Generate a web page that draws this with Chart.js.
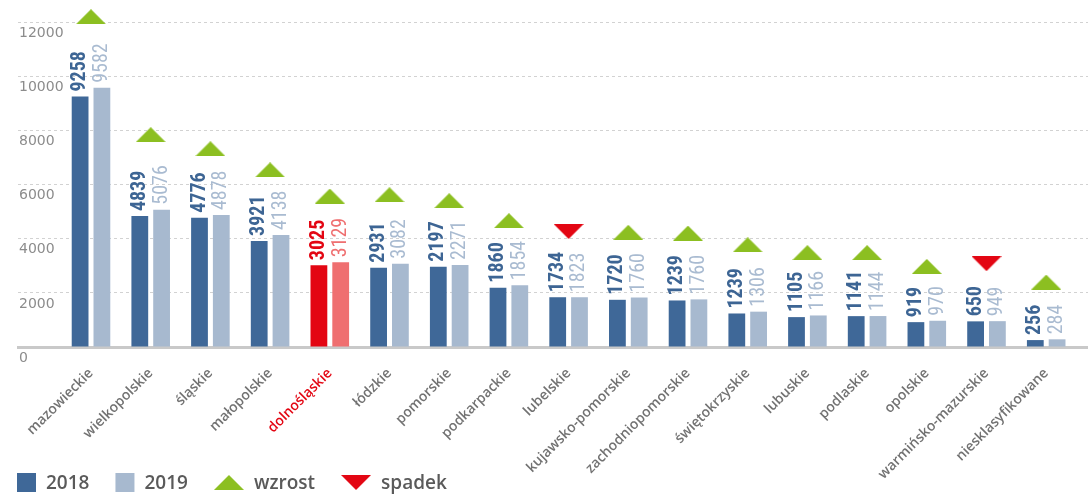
<!DOCTYPE html>
<html lang="pl">
<head>
<meta charset="utf-8">
<title>Województwa 2018 / 2019</title>
<script src="https://cdn.jsdelivr.net/npm/chart.js@4/dist/chart.umd.min.js"></script>
<style>
  html, body { margin: 0; padding: 0; background: #ffffff; }
  #wrap { width: 1088px; height: 494px; position: relative; }
</style>
</head>
<body>
<div id="wrap"><canvas id="c" width="1088" height="494"></canvas></div>
<script>
// ---- data ----
const CATEGORIES = ['mazowieckie','wielkopolskie','śląskie','małopolskie','dolnośląskie','łódzkie','pomorskie','podkarpackie','lubelskie','kujawsko-pomorskie','zachodniopomorskie','świętokrzyskie','lubuskie','podlaskie','opolskie','warmińsko-mazurskie','niesklasyfikowane'];
const HIGHLIGHT = 'dolnośląskie';
// bar heights as drawn in the picture
const VALUES_2018 = [9258, 4839, 4776, 3921, 3025, 2931, 2970, 2195, 1840, 1745, 1720, 1239, 1105, 1141, 919, 948, 256];
const VALUES_2019 = [9582, 5076, 4878, 4138, 3129, 3082, 3030, 2280, 1840, 1830, 1760, 1306, 1166, 1144, 970, 955, 284];
// numbers printed above the bars
const LABELS_2018 = ['9258','4839','4776','3921','3025','2931','2197','1860','1734','1720','1239','1239','1105','1141','919','650','256'];
const LABELS_2019 = ['9582','5076','4878','4138','3129','3082','2271','1854','1823','1760','1760','1306','1166','1144','970','949','284'];
// trend marker: direction and height (axis units)
const TREND = ['up','up','up','up','up','up','up','up','down','up','up','up','up','up','up','down','up'];
const MARKER_Y = [12210, 7850, 7330, 6550, 5580, 5630, 5410, 4670, 4270, 4240, 4210, 3780, 3490, 3490, 2980, 3080, 2400];
const SERIES_NAMES = ['2018', '2019'];
const TREND_NAMES = { up: 'wzrost', down: 'spadek' };
const Y_TICKS = [0, 2000, 4000, 6000, 8000, 10000, 12000];

// ---- styles / layout constants ----
const C2018 = '#3f6898', C2019 = '#a7b9cf';
const CRED = '#e30613', CRED_LIGHT = '#ef6f70';
const CLAB2018 = '#3d6594', CLAB2019 = '#a9bbd1';
const CGREEN = '#8cbf21';
const GRAY_TXT = '#727272';
const FIRST_CENTER_PX = 91;    // pixel centre of first category group
const CATEGORY_PX = 59.7;      // pixel distance between groups
const PX_PER_UNIT = 0.02705;   // vertical pixels per value unit

function triangleImage(dir, color) {
  const w = 30, h = 15;
  const cv = document.createElement('canvas');
  cv.width = w; cv.height = h;
  const g = cv.getContext('2d');
  g.fillStyle = color;
  g.beginPath();
  if (dir === 'up') { g.moveTo(0, h); g.lineTo(w / 2, 0); g.lineTo(w, h); }
  else { g.moveTo(0, 0); g.lineTo(w, 0); g.lineTo(w / 2, h); }
  g.closePath();
  g.fill();
  return cv;
}
const TRI = { up: triangleImage('up', CGREEN), down: triangleImage('down', CRED) };

const isHi = i => CATEGORIES[i] === HIGHLIGHT;

const valueLabels = {
  id: 'valueLabels',
  afterDatasetsDraw(chart) {
    const ctx = chart.ctx;
    [[0, LABELS_2018, true], [1, LABELS_2019, false]].forEach(([d, labels, bold]) => {
      const meta = chart.getDatasetMeta(d);
      meta.data.forEach((bar, i) => {
        ctx.save();
        ctx.translate(bar.x, bar.y - 5);
        ctx.rotate(-Math.PI / 2);
        ctx.font = (bold ? 'bold ' : '') + "20px 'Liberation Sans Narrow', 'Roboto Condensed', 'Open Sans', sans-serif";
        ctx.fillStyle = isHi(i) ? (bold ? CRED : CRED_LIGHT) : (bold ? CLAB2018 : CLAB2019);
        ctx.textAlign = 'left';
        ctx.textBaseline = 'middle';
        ctx.fillText(labels[i], 0, 0);
        ctx.restore();
      });
    });
  }
};

const bottomLegend = {
  id: 'bottomLegend',
  afterDraw(chart) {
    const ctx = chart.ctx;
    const cy = 482.5;
    let x = 17;
    ctx.save();
    ctx.font = "600 19px 'Open Sans', sans-serif";
    ctx.textBaseline = 'middle';
    const items = [
      { type: 'box', color: C2018, text: SERIES_NAMES[0] },
      { type: 'box', color: C2019, text: SERIES_NAMES[1] },
      { type: 'img', img: TRI.up, text: TREND_NAMES.up },
      { type: 'img', img: TRI.down, text: TREND_NAMES.down }
    ];
    items.forEach(it => {
      if (it.type === 'box') {
        ctx.fillStyle = it.color;
        ctx.fillRect(x, cy - 9.5, 19, 19);
        x += 19 + 10;
      } else {
        ctx.drawImage(it.img, x, cy - 7.5);
        x += 30 + 10;
      }
      ctx.fillStyle = '#5a5a5a';
      ctx.fillText(it.text, x, cy + 1);
      x += ctx.measureText(it.text).width + 26;
    });
    ctx.restore();
  }
};

const ctx = document.getElementById('c').getContext('2d');
const chart = new Chart(ctx, {
  data: {
    datasets: [
      {
        type: 'bar', label: SERIES_NAMES[0],
        data: VALUES_2018.map((v, i) => ({ x: i, y: v })),
        backgroundColor: CATEGORIES.map((c, i) => isHi(i) ? CRED : C2018),
        categoryPercentage: 0.73, barPercentage: 0.77, order: 2
      },
      {
        type: 'bar', label: SERIES_NAMES[1],
        data: VALUES_2019.map((v, i) => ({ x: i, y: v })),
        backgroundColor: CATEGORIES.map((c, i) => isHi(i) ? CRED_LIGHT : C2019),
        categoryPercentage: 0.73, barPercentage: 0.77, order: 2
      },
      {
        type: 'scatter', label: 'trend',
        data: MARKER_Y.map((v, i) => ({ x: i, y: v })),
        pointStyle: TREND.map(t => TRI[t]),
        pointRadius: 10, showLine: false, clip: false, order: 1
      }
    ]
  },
  options: {
    responsive: false,
    devicePixelRatio: 1,
    animation: false,
    layout: { autoPadding: false, padding: { left: 16, right: 0, top: 0, bottom: 0 } },
    plugins: { legend: { display: false }, tooltip: { enabled: false } },
    scales: {
      x: {
        type: 'linear', min: -1.26, max: 16.76, bounds: 'data', offset: false,
        grid: { display: false, drawTicks: false },
        border: { display: true, color: '#c9c9c9', width: 3 },
        ticks: {
          autoSkip: false,
          minRotation: 45, maxRotation: 45, padding: 18,
          callback: v => (CATEGORIES[v] !== undefined ? CATEGORIES[v] : ''),
          color: c => (CATEGORIES[c.tick && c.tick.value] === HIGHLIGHT ? CRED : GRAY_TXT),
          font: { family: "'Open Sans', sans-serif", size: 14, weight: '600' }
        },
        afterBuildTicks: s => { s.ticks = CATEGORIES.map((c, i) => ({ value: i })); },
        afterFit: s => { s.height = 147; s.paddingLeft = 0; s.paddingRight = 0; }
      },
      y: {
        min: 0, max: 12830, bounds: 'data',
        border: { display: false, dash: [3, 3] },
        grid: {
          drawTicks: false, lineWidth: 1,
          color: c => (c.tick && c.tick.value === 0 ? 'rgba(0,0,0,0)' : '#d2d2d2')
        },
        ticks: {
          mirror: true,
          padding: 1, labelOffset: 11,
          color: '#8c8c8c',
          font: { family: "'DejaVu Sans', sans-serif", size: 14 },
          callback: v => String(v)
        },
        afterBuildTicks: s => { s.ticks = Y_TICKS.map(v => ({ value: v })); },
        afterFit: s => { s.paddingTop = 0; s.paddingBottom = 0; }
      }
    }
  },
  plugins: [valueLabels, bottomLegend]
});

// fit the axis ranges to the actual plot area so the scale matches the original
(function calibrate() {
  const a = chart.chartArea;
  const xmin = -(FIRST_CENTER_PX - a.left) / CATEGORY_PX;
  chart.options.scales.x.min = xmin;
  chart.options.scales.x.max = xmin + (a.right - a.left) / CATEGORY_PX;
  chart.options.scales.y.max = (a.bottom - a.top) / PX_PER_UNIT;
  chart.update();
})();
</script>
</body>
</html>
